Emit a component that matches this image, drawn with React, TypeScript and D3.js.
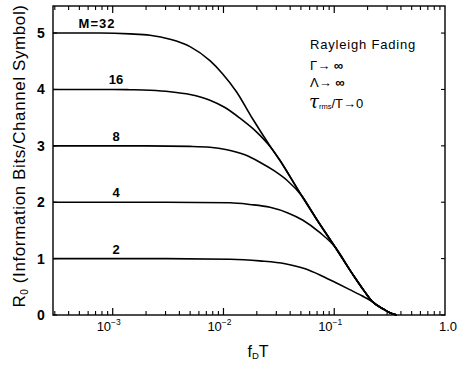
import React from "react";
import * as d3 from "d3";

// fDT values and R0 values for each M curve
const fd32 = [2.89e-4, 7.7e-4, 1.43e-3, 2.17e-3, 3.29e-3, 4.99e-3, 7.55e-3, 9.8e-3, 0.0131, 0.0182, 0.0263, 0.0324, 0.0461, 0.0511, 0.0698, 0.1014, 0.147, 0.189, 0.22, 0.275, 0.325, 0.368];
const r32 = [5.0, 5.0, 4.985, 4.96, 4.89, 4.76, 4.51, 4.28, 3.96, 3.49, 3.0, 2.74, 2.25, 2.11, 1.69, 1.21, 0.72, 0.41, 0.24, 0.11, 0.03, 0.0];
const fd16 = [2.89e-4, 1e-3, 1.43e-3, 2.17e-3, 3.29e-3, 4.99e-3, 7.55e-3, 0.01032, 0.0141, 0.02006, 0.0263, 0.0324, 0.0461, 0.0511, 0.0698, 0.1014, 0.147, 0.189, 0.22, 0.275, 0.325, 0.368];
const r16 = [4.0, 4.0, 3.995, 3.985, 3.96, 3.91, 3.81, 3.68, 3.49, 3.24, 2.99, 2.74, 2.25, 2.11, 1.69, 1.21, 0.72, 0.41, 0.24, 0.11, 0.03, 0.0];
const fd8 = [2.89e-4, 2e-3, 4.99e-3, 7.55e-3, 0.01076, 0.0156, 0.0213, 0.0291, 0.0374, 0.0511, 0.0698, 0.1014, 0.147, 0.189, 0.22, 0.275, 0.325, 0.368];
const r8 = [3.0, 3.0, 2.99, 2.975, 2.93, 2.84, 2.71, 2.55, 2.39, 2.11, 1.69, 1.21, 0.72, 0.41, 0.24, 0.11, 0.03, 0.0];
const fd4 = [2.89e-4, 3e-3, 0.01146, 0.01734, 0.0263, 0.0382, 0.0522, 0.0743, 0.1014, 0.147, 0.189, 0.22, 0.275, 0.325, 0.368];
const r4 = [2.0, 2.0, 1.99, 1.96, 1.91, 1.81, 1.68, 1.46, 1.21, 0.72, 0.41, 0.24, 0.11, 0.03, 0.0];
const fd2 = [2.89e-4, 3e-3, 0.01146, 0.0213, 0.036, 0.0546, 0.0743, 0.1014, 0.138, 0.178, 0.22, 0.275, 0.325, 0.368];
const r2 = [1.0, 1.0, 0.99, 0.96, 0.91, 0.82, 0.71, 0.58, 0.45, 0.34, 0.24, 0.11, 0.03, 0.0];

const curveLabels = ["M=32", "16", "8", "4", "2"];
const labelLevels = [5, 4, 3, 2, 1];
const yTicks = [0, 1, 2, 3, 4, 5];
const xMajor = [1e-3, 1e-2, 1e-1];
const xMajorExp = ["−3", "−2", "−1"];

const W = 458, H = 366;
const L = 53, R = 445, T = 6, B = 315;

export default function App() {
  const x = d3.scaleLog().domain([2.89e-4, 1]).range([L, R]);
  const y = d3.scaleLinear().domain([0, 5.48]).range([B, T]);
  const line = d3
    .line<[number, number]>()
    .x((d) => x(d[0]))
    .y((d) => y(d[1]))
    .curve(d3.curveMonotoneX);

  const series: [number[], number[]][] = [
    [fd32, r32],
    [fd16, r16],
    [fd8, r8],
    [fd4, r4],
    [fd2, r2],
  ];

  const minor: number[] = [];
  for (let e = -4; e <= -1; e++) {
    for (let k = 2; k <= 9; k++) {
      const v = k * Math.pow(10, e);
      if (v >= 2.89e-4 && v < 1) minor.push(v);
    }
  }

  const font = "'Liberation Sans', Arial, sans-serif";

  return (
    <svg width={W} height={H} style={{ display: "block", position: "absolute", left: 0, top: 0 }}>
      <rect x={0} y={0} width={W} height={H} fill="#fff" />
      <rect x={L} y={T} width={R - L} height={B - T} fill="none" stroke="#000" strokeWidth={1.4} />
      {minor.map((v, i) => (
        <line key={"bm" + i} x1={x(v)} x2={x(v)} y1={B} y2={B - 4} stroke="#000" strokeWidth={1.1} />
      ))}
      {xMajor.map((v, i) => (
        <line key={"bM" + i} x1={x(v)} x2={x(v)} y1={B} y2={B - 7} stroke="#000" strokeWidth={1.2} />
      ))}
      {minor.map((v, i) => (
        <line key={"tm" + i} x1={x(v)} x2={x(v)} y1={T} y2={T + 4} stroke="#000" strokeWidth={1.1} />
      ))}
      {xMajor.map((v, i) => (
        <line key={"tM" + i} x1={x(v)} x2={x(v)} y1={T} y2={T + 7} stroke="#000" strokeWidth={1.2} />
      ))}
      {yTicks.map((v) => (
        <g key={"y" + v}>
          <line x1={L} x2={L + 4} y1={y(v)} y2={y(v)} stroke="#000" strokeWidth={1.1} />
          <line x1={R} x2={R - 4} y1={y(v)} y2={y(v)} stroke="#000" strokeWidth={1.1} />
          <text x={L - 12} y={y(v) + 5} fontSize={14} fontFamily={font} textAnchor="middle" fontWeight={600}>
            {v}
          </text>
        </g>
      ))}
      {xMajor.map((v, i) => (
        <text key={"xl" + i} x={x(v) - 4} y={331} fontSize={13} fontFamily={font} textAnchor="middle">
          10
          <tspan dy={-6} fontSize={8.5}>
            {xMajorExp[i]}
          </tspan>
        </text>
      ))}
      <text x={R + 3} y={331} fontSize={13} fontFamily={font} textAnchor="middle">
        1.0
      </text>
      <text x={258} y={357} fontSize={16} fontFamily={font} textAnchor="middle">
        f
        <tspan fontSize={9.5} dy={2}>D</tspan>
        <tspan dy={-2}>T</tspan>
      </text>
      <text
        transform={`translate(25, ${156}) rotate(-90)`}
        fontSize={17}
        fontFamily={font}
        textAnchor="middle"
        letterSpacing={0.6}
      >
        R<tspan fontSize={10} dy={3}>0</tspan>
        <tspan dy={-3}> (Information Bits/Channel Symbol)</tspan>
      </text>
      {series.map(([fs, rs], i) => (
        <path
          key={"c" + i}
          d={line(fs.map((f, j) => [f, rs[j]] as [number, number])) || ""}
          fill="none"
          stroke="#000"
          strokeWidth={1.6}
        />
      ))}
      {curveLabels.map((lab, i) => (
        <text
          key={"lab" + i}
          x={i === 0 ? 97 : 116}
          y={y(labelLevels[i]) - 5}
          fontSize={13}
          fontFamily={font}
          fontWeight={600}
          textAnchor="middle"
          letterSpacing={i === 0 ? 1 : 0}
        >
          {lab}
        </text>
      ))}
      <g fontFamily={font} fontSize={13}>
        <text x={310} y={49} letterSpacing={0.8}>Rayleigh Fading</text>
        <text x={310} y={70}>
          Γ→ <tspan fontWeight={700}>∞</tspan>
        </text>
        <text x={310} y={87}>
          Λ→ <tspan fontWeight={700}>∞</tspan>
        </text>
        <text x={309} y={108}>
          <tspan fontSize={18} fontStyle="italic" fontFamily="'DejaVu Serif', serif">τ</tspan>
          <tspan fontSize={7.5} dy={1}>rms</tspan>
          <tspan dy={-1}>/T→0</tspan>
        </text>
      </g>
    </svg>
  );
}
